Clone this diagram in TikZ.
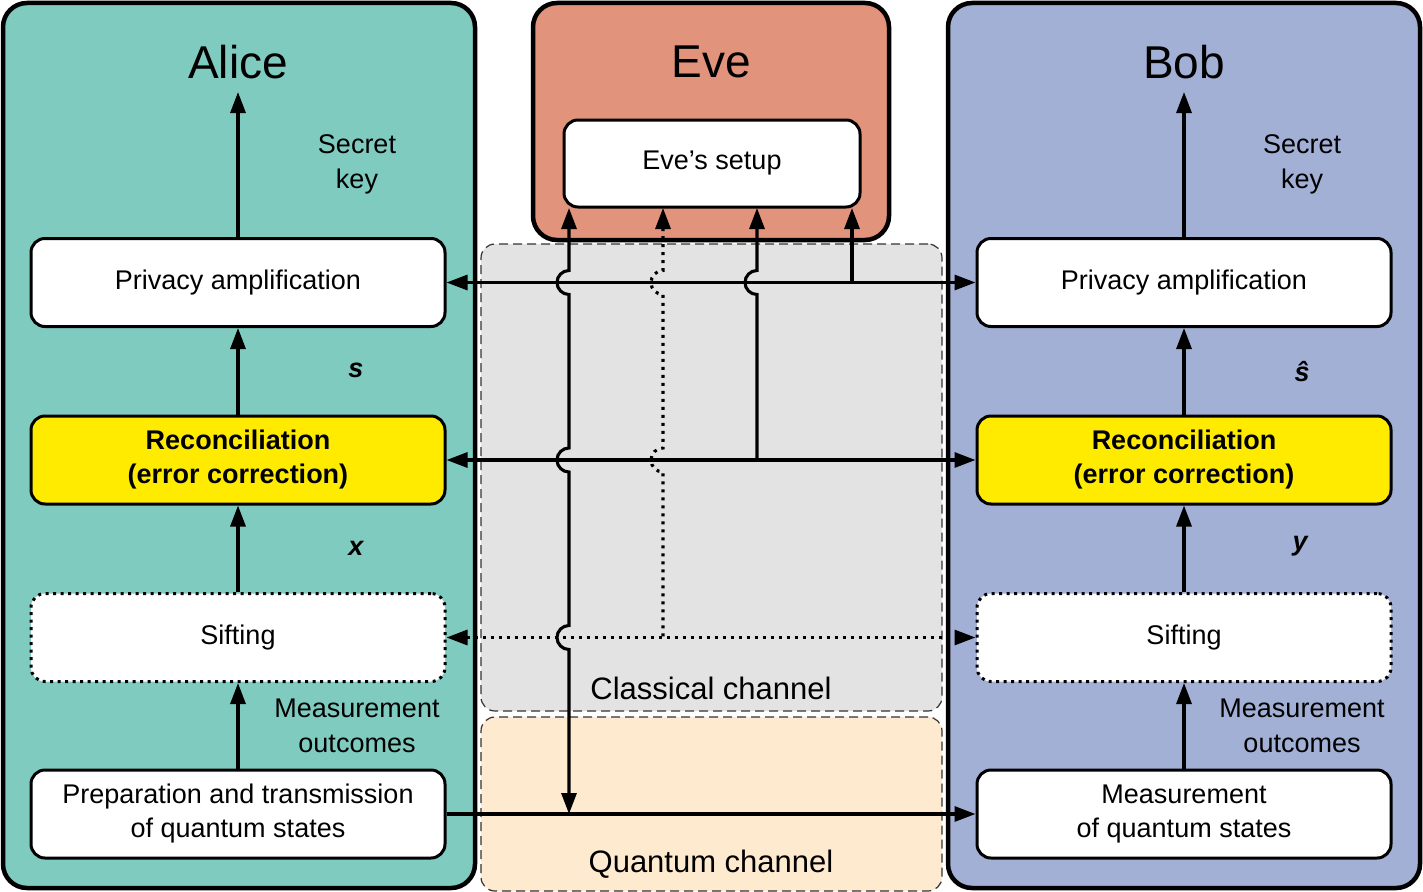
\documentclass[tikz,border=0pt]{standalone}
\usepackage{fontspec}
\setmainfont{Liberation Sans}
\usetikzlibrary{arrows.meta}
\definecolor{alicec}{RGB}{128,203,192}
\definecolor{bobc}{RGB}{163,176,213}
\definecolor{evec}{RGB}{225,147,124}
\definecolor{recc}{RGB}{255,235,0}
\definecolor{classc}{RGB}{227,227,227}
\definecolor{quantc}{RGB}{254,234,207}
\begin{document}
\begin{tikzpicture}[x=1pt,y=-1pt,
  panel/.style={draw, line width=4.5pt, rounded corners=24pt, inner sep=0pt},
  chan/.style={draw=black!80, line width=1.2pt, dash pattern=on 9pt off 5pt, rounded corners=14pt, inner sep=0pt},
  box/.style={draw, line width=3pt, rounded corners=14pt, fill=white, minimum width=414pt, minimum height=88pt, inner sep=0pt, align=center, font=\fontsize{27}{34}\selectfont},
  dotbox/.style={box, dash pattern=on 3pt off 4.5pt},
  title/.style={font=\fontsize{46}{50}\selectfont},
  lbl/.style={align=center, font=\fontsize{27}{35}\selectfont},
  vlbl/.style={font=\fontsize{27}{34}\selectfont\bfseries\itshape},
  conn/.style={line width=3.1pt, arrows={-Triangle[length=21pt,width=15pt]}},
  biconn/.style={line width=3.1pt, arrows={Triangle[length=21pt,width=15pt]-Triangle[length=21pt,width=15pt]}},
  startarrow/.style={line width=3.1pt, arrows={Triangle[length=21pt,width=15pt]-}},
  dotline/.style={dash pattern=on 3pt off 5pt},
  hop/.style 2 args={insert path={-- (#1,#2-12) .. controls (#1-6.6,#2-12) and (#1-12,#2-6.6) .. (#1-12,#2) .. controls (#1-12,#2+6.6) and (#1-6.6,#2+12) .. (#1,#2+12)}}
]
\useasboundingbox (0,0) rectangle (1423,891);

% panels
\node[panel, fill=alicec, minimum width=472pt, minimum height=885pt] (alice) at (239,445.5) {};
\node[panel, fill=bobc, minimum width=472pt, minimum height=885pt] (bob) at (1184,445.5) {};
\node[panel, fill=evec, minimum width=356pt, minimum height=237pt] (eve) at (711,121.5) {};

% channels
\node[chan, fill=classc, minimum width=461pt, minimum height=467pt] (classical) at (711.5,477.5) {};
\node[chan, fill=quantc, minimum width=461pt, minimum height=174pt] (quantum) at (711.5,804) {};
\node[lbl, font=\fontsize{31}{36}\selectfont] (classlbl) at (711,688) {Classical channel};
\node[lbl, font=\fontsize{31}{36}\selectfont] (quantlbl) at (711,864) {Quantum channel};

% titles
\node[title] (alicet) at (238,62) {Alice};
\node[title] (evet) at (711,62) {Eve};
\node[title] (bobt) at (1184,62) {Bob};

% Eve's setup
\node[box, minimum width=296pt, minimum height=87pt] (setup) at (712,163.5) {Eve’s setup};

% Alice boxes
\node[box] (aPA) at (238,282.5) {Privacy amplification};
\node[box, fill=recc, font=\fontsize{27}{34}\selectfont\bfseries] (aRec) at (238,460) {Reconciliation\\(error correction)};
\node[dotbox] (aSift) at (238,637.5) {Sifting};
\node[box] (aPrep) at (238,814) {Preparation and transmission\\of quantum states};

% Bob boxes
\node[box] (bPA) at (1184,282.5) {Privacy amplification};
\node[box, fill=recc, font=\fontsize{27}{34}\selectfont\bfseries] (bRec) at (1184,460) {Reconciliation\\(error correction)};
\node[dotbox] (bSift) at (1184,637.5) {Sifting};
\node[box] (bMeas) at (1184,814) {Measurement\\of quantum states};

% labels
\node[lbl] (askey) at (357,164) {Secret\\key};
\node[vlbl] (as) at (356,370) {s};
\node[vlbl] (ax) at (356,548) {x};
\node[lbl] (ameas) at (357,726) {Measurement\\outcomes};
\node[lbl] (bskey) at (1302,164) {Secret\\key};
\node[vlbl] (bs) at (1302,372) {\^{s}};
\node[vlbl] (by) at (1300,546) {y};
\node[lbl] (bmeas) at (1302,726) {Measurement\\outcomes};

% vertical flows
\coordinate (aTop) at (238,92);
\coordinate (bTop) at (1184,92);
\draw[conn] (aPA.north) -- (aTop);
\draw[conn] (aRec.north) -- (aPA.south);
\draw[conn] (aSift.north) -- (aRec.south);
\draw[conn] (aPrep.north) -- (aSift.south);
\draw[conn] (bPA.north) -- (bTop);
\draw[conn] (bRec.north) -- (bPA.south);
\draw[conn] (bSift.north) -- (bRec.south);
\draw[conn] (bMeas.north) -- (bSift.south);

% horizontal channels
\draw[biconn] (aPA.east) -- (bPA.west);
\draw[biconn] (aRec.east) -- (bRec.west);
\draw[biconn, dotline] (aSift.east) -- (bSift.west);
\draw[conn] (aPrep.east) -- (bMeas.west);

% Eve taps
\coordinate (e1) at (569,208);
\coordinate (e2) at (663,208);
\coordinate (e3) at (757,208);
\coordinate (e4) at (852,208);
\coordinate (q1) at (569,814);
\coordinate (s2) at (663,637.5);
\coordinate (r3) at (757,460);
\coordinate (p4) at (852,282.5);
\draw[biconn] (e1) [hop={569}{282.5}] [hop={569}{460}] [hop={569}{637.5}] -- (q1);
\draw[startarrow, dotline] (e2) [hop={663}{282.5}] [hop={663}{460}] -- (s2);
\draw[startarrow] (e3) [hop={757}{282.5}] -- (r3);
\draw[startarrow] (e4) -- (p4);
\end{tikzpicture}
\end{document}
